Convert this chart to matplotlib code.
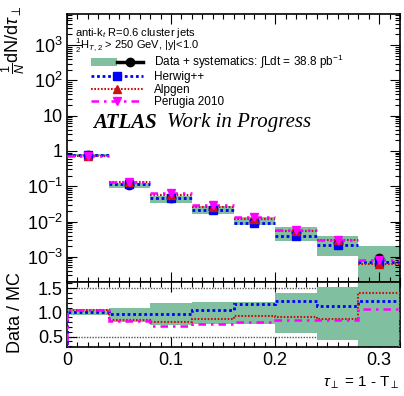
import numpy as np
import matplotlib
matplotlib.use('Agg')
import matplotlib.pyplot as plt
from matplotlib.lines import Line2D
from matplotlib.patches import Patch
from matplotlib.legend_handler import HandlerTuple
from matplotlib.ticker import LogLocator, FuncFormatter, MultipleLocator, NullFormatter

plt.rcParams['font.family'] = ['Liberation Sans', 'DejaVu Sans']
plt.rcParams['mathtext.fontset'] = 'custom'
plt.rcParams['mathtext.rm'] = 'Liberation Sans'
plt.rcParams['mathtext.it'] = 'Liberation Sans:italic'
plt.rcParams['mathtext.bf'] = 'Liberation Sans:bold'

# bins in tau_perp
edges = [0.0, 0.04, 0.08, 0.12, 0.16, 0.20, 0.24, 0.28, 0.32]
centers = [0.02, 0.06, 0.10, 0.14, 0.18, 0.22, 0.26, 0.30]

# measured 1/N dN/dtau
data = [0.75, 0.11, 0.045, 0.022, 0.0107, 0.0049, 0.0025, 0.0009]
# relative systematic band (low / high)
sys_lo = [0.95, 0.81, 0.74, 0.75, 0.75, 0.58, 0.43, 0.12]
sys_hi = [1.07, 1.09, 1.20, 1.22, 1.22, 1.41, 1.53, 2.30]

# data / MC ratios
herwig = [1.00, 0.975, 0.97, 1.05, 1.18, 1.24, 1.14, 1.24]
alpgen = [1.04, 0.85, 0.80, 0.86, 0.93, 0.90, 0.86, 1.40]
perugia = [1.05, 0.83, 0.72, 0.76, 0.81, 0.85, 0.84, 1.08]

green = '#80c0a0'
styles = {
    'Herwig++': dict(r=herwig, color='#0000ff', ls=(0, (1, 1)), lw=2.0, marker='s', ms=5.5),
    'Alpgen': dict(r=alpgen, color='#cc1111', ls=(0, (0.8, 0.8)), lw=1.5, marker='^', ms=5.5),
    'Perugia 2010': dict(r=perugia, color='#ff00ff', ls=(0, (3, 2, 1, 2)), lw=1.8, marker='v', ms=5.5),
}

W, H = 404, 396
fig = plt.figure(figsize=(W / 100, H / 100), dpi=100)
ax = fig.add_axes([67 / W, 1 - 281.5 / H, 333 / W, 267.5 / H])
axr = fig.add_axes([67 / W, 1 - 346.7 / H, 333 / W, 65.2 / H])

data_a = np.array(data)
ax.stairs(data_a * np.array(sys_hi), edges, baseline=data_a * np.array(sys_lo),
          fill=True, color=green, lw=0, zorder=1)
ax.plot(centers, data, 'o', color='k', ms=6, zorder=3)
for name, s in styles.items():
    mc = data_a / np.array(s['r'])
    ax.hlines(mc, edges[:-1], edges[1:], colors=s['color'], linestyles=[s['ls']],
              lw=s['lw'], zorder=4)
    ax.plot(centers, mc, ls='none', marker=s['marker'], color=s['color'], ms=s['ms'], zorder=5)

ax.set_yscale('log')
ax.set_xlim(0, 0.32)
ax.set_ylim(2e-4, 7.6e3)


def log_fmt(v, pos):
    e = int(round(np.log10(v)))
    if e == 0:
        return '1'
    if e == 1:
        return '10'
    return r'$10^{%d}$' % e


ax.yaxis.set_major_locator(LogLocator(base=10, numticks=20))
ax.yaxis.set_major_formatter(FuncFormatter(log_fmt))
ax.yaxis.set_minor_locator(LogLocator(base=10, subs=np.arange(2, 10), numticks=20))
ax.yaxis.set_minor_formatter(NullFormatter())

for a in (ax, axr):
    a.xaxis.set_major_locator(MultipleLocator(0.1))
    a.xaxis.set_minor_locator(MultipleLocator(0.01))
    a.tick_params(which='both', direction='in', top=True, right=True, labelsize=13)
    a.tick_params(which='major', length=7, width=0.8)
    a.tick_params(which='minor', length=3.5, width=0.8)
    for sp in a.spines.values():
        sp.set_linewidth(1.2)
ax.tick_params(labelbottom=False, pad=3)

# ratio panel
axr.hlines([0.5, 1.5], 0, 0.32, colors='#555555', linestyles=[(0, (1, 1))], lw=1.0, zorder=1)
axr.stairs(sys_hi, edges, baseline=sys_lo, fill=True, color=green, lw=0, zorder=2)
for name, s in styles.items():
    axr.stairs(s['r'], edges, color=s['color'], ls=s['ls'], lw=s['lw'], zorder=3)
axr.set_xlim(0, 0.32)
axr.set_ylim(0.29, 1.64)
axr.yaxis.set_major_locator(MultipleLocator(0.5))
axr.yaxis.set_minor_locator(MultipleLocator(0.1))
axr.yaxis.set_major_formatter(FuncFormatter(lambda v, p: '%.1f' % v))
axr.xaxis.set_major_formatter(FuncFormatter(lambda v, p: '0' if abs(v) < 1e-9 else '%.1f' % v))
axr.tick_params(axis='x', pad=4)
axr.tick_params(axis='y', pad=3)

# labels
fig.text(13 / W, 1 - 6 / H, r'$\frac{1}{N}$dN/d$\tau_{\perp}$', rotation=90,
         ha='center', va='top', fontsize=13)
fig.text(15 / W, 1 - 313 / H, 'Data / MC', rotation=90, ha='center', va='center', fontsize=13)
fig.text(399 / W, 1 - 383 / H, r'$\tau_{\perp}$ = 1 - T$_{\perp}$', ha='right', va='center',
         fontsize=11)

fig.text(75 / W, 1 - 33 / H, r'anti-k$_{t}$ R=0.6 cluster jets', ha='left', va='center', fontsize=8)
fig.text(75 / W, 1 - 46 / H, r'$\frac{1}{2}$H$_{T,2}$ > 250 GeV, |y|<1.0', ha='left',
         va='center', fontsize=8)
fig.text(93 / W, 1 - 123 / H, 'ATLAS', family='Liberation Serif', style='italic',
         weight='bold', fontsize=15, ha='left', va='center')
fig.text(167 / W, 1 - 123 / H, 'Work in Progress', family='Liberation Serif', style='italic',
         fontsize=15, ha='left', va='center')

handles = [(Patch(facecolor=green, edgecolor='none'),
            Line2D([], [], color='k', lw=2.5, marker='o', ms=6))]
labels = [r'Data + systematics: $\int$Ldt = 38.8 pb$^{-1}$']
for name, s in styles.items():
    handles.append(Line2D([], [], color=s['color'], ls=s['ls'], lw=s['lw'],
                          marker=s['marker'], ms=s['ms']))
    labels.append(name)
fig.legend(handles, labels, handler_map={tuple: HandlerTuple(ndivide=None)},
           loc='upper left', bbox_to_anchor=(91 / W, 1 - 53 / H), frameon=False,
           fontsize=8.5, handlelength=4.4, handletextpad=0.9, labelspacing=0.02,
           borderpad=0, borderaxespad=0, numpoints=1)

fig.savefig('out.png', dpi=100)
